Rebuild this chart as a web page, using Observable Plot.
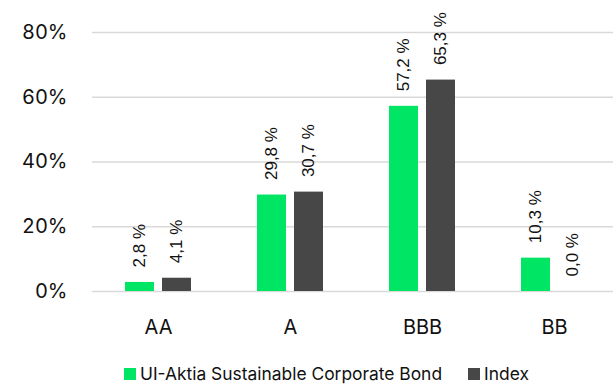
<!DOCTYPE html>
<html>
<head>
<meta charset="utf-8">
<script src="https://cdn.jsdelivr.net/npm/d3@7"></script>
<script src="https://cdn.jsdelivr.net/npm/@observablehq/plot@0.6"></script>
<style>
  html, body { margin: 0; padding: 0; background: #fff; }
  #wrap { position: relative; width: 613px; height: 384px; overflow: hidden; }
  #legend { position: absolute; left: 124px; top: 365px; display: flex; align-items: center;
    font-family: Inter, sans-serif; font-size: 17.4px; color: #111; line-height: 17px; font-weight: 400; }
  .sw { display: inline-block; width: 12px; height: 12px; margin-right: 4px; }
  .item { display: flex; align-items: center; margin-right: 26px; }
</style>
</head>
<body>
<div id="wrap"></div>
<script>
const categories = ["AA", "A", "BBB", "BB"];
const seriesNames = ["UI-Aktia Sustainable Corporate Bond", "Index"];
const fundValues = [2.8, 29.8, 57.2, 10.3];
const indexValues = [4.1, 30.7, 65.3, 0.0];
const yTicks = [0, 20, 40, 60, 80];
const colors = ["#00e664", "#474747"];

const rows = categories.flatMap((c, i) => [
  {cat: c, series: seriesNames[0], value: fundValues[i]},
  {cat: c, series: seriesNames[1], value: indexValues[i]}
]);

const fmt = v => v.toFixed(1).replace(".", ",") + " %";

const chart = Plot.plot({
  width: 613,
  height: 350,
  marginLeft: 90,
  marginRight: -8,
  marginTop: 32,
  marginBottom: 59,
  style: {fontFamily: "Inter, sans-serif", color: "#111", background: "#fff", fontWeight: 400},
  fx: {domain: categories, padding: 0},
  x: {domain: seriesNames, paddingInner: 0.21, paddingOuter: 0.855, axis: null},
  y: {domain: [0, 80]},
  color: {domain: seriesNames, range: colors},
  marks: [
    Plot.gridY(yTicks, {stroke: "#d9d9d9", strokeOpacity: 1, strokeWidth: 1.5}),
    Plot.axisY(yTicks, {tickSize: 0, tickPadding: 25, fontSize: 20, tickFormat: d => d + "%", label: null}),
    Plot.axisFx({anchor: "bottom", tickSize: 0, tickPadding: 28, fontSize: 20, label: null}),
    Plot.barY(rows, {fx: "cat", x: "series", y: "value", fill: "series"}),
    Plot.text(rows, {fx: "cat", x: "series", y: "value", text: d => fmt(d.value), rotate: -90,
      textAnchor: "start", lineAnchor: "middle", dy: -15, fontSize: 17, fontWeight: 400,
      fontFamily: "'Liberation Sans', Arial, sans-serif", fill: "#111"})
  ]
});
document.getElementById("wrap").appendChild(chart);

const legend = document.createElement("div");
legend.id = "legend";
seriesNames.forEach((name, i) => {
  const item = document.createElement("span");
  item.className = "item";
  const sw = document.createElement("span");
  sw.className = "sw";
  sw.style.background = colors[i];
  item.appendChild(sw);
  item.appendChild(document.createTextNode(name));
  legend.appendChild(item);
});
document.getElementById("wrap").appendChild(legend);
</script>
</body>
</html>
